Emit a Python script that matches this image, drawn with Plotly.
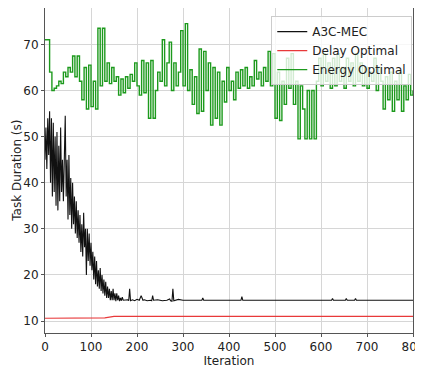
import plotly.graph_objects as go

# ---- data ----
energy_x = list(range(0, 801, 5))
energy_y = [
    71, 71, 64, 60, 60.5, 61, 62, 61.5, 64, 63,
    65, 64, 67.5, 63, 67.5, 62, 58, 65, 56, 65.5,
    56.5, 62, 56, 73.5, 61, 73.5, 62, 66, 61.5, 65,
    62, 63, 59, 62.5, 59.5, 63, 60.5, 63.5, 62, 66,
    61, 59, 66.5, 59.5, 66, 54, 66.5, 54, 60, 64,
    62, 71, 61, 66, 70.5, 60, 66, 61, 64, 73,
    61, 74.5, 60, 64.5, 57, 63, 55, 69, 55.5, 68.5,
    60, 66, 52.5, 65, 54, 64, 52.5, 62, 57.5, 65,
    60, 62, 58, 64, 60.5, 64.5, 61, 65, 60.5, 63,
    61, 66.5, 62.5, 64, 61, 65, 62, 68.5, 61, 68,
    54, 64, 53.5, 62, 57, 67, 60.5, 68, 57, 62,
    49.5, 61, 56, 49.5, 60, 49.5, 60, 49.5, 62, 67,
    61, 68, 62, 66, 60.5, 67, 61, 68, 62, 65,
    60.5, 67, 62, 66, 61, 68, 62, 66, 61, 65,
    60.5, 64, 62, 67, 60, 65, 62, 56, 63, 58,
    64, 55.5, 62, 58, 64, 55.5, 61, 58, 63.5, 59,
    60,
]

a3c_x = list(range(0, 171, 2)) + [
    175, 180, 182, 184, 186, 190, 195, 200, 205, 207, 209, 211, 213, 216, 222,
    230, 232, 234, 236, 245, 255, 265, 271, 273, 276, 278, 280, 290, 300, 320,
    341, 343, 345, 380, 426, 428, 430, 500, 620, 623, 625, 627, 653, 655, 657,
    673, 675, 677, 800]
a3c_y = [
    45, 52, 43, 54, 46, 55.5, 40, 54, 37, 53,
    38, 50, 35, 51, 34, 48, 36, 52, 38, 45,
    36, 47, 54.5, 37, 45, 32, 46, 33, 41, 30,
    40, 31, 37, 29, 36, 28, 34, 27, 33, 25,
    31, 24, 33.5, 26, 30, 20, 30, 23, 29, 22,
    27, 21, 25, 19, 24, 18, 23, 17.5, 21, 17,
    21.5, 16.5, 20, 16, 19, 15.5, 18.5, 15, 17.5, 15,
    17, 14.5, 16.5, 14.5, 17, 14.5, 16, 14.3, 16, 14.5,
    15.5, 14.3, 15, 14.4, 15.2, 14.5,
    14.5, 14.6, 14.4, 17, 14.4, 14.6, 14.4, 14.7, 14.5, 15.2, 15.5, 15.0, 14.5, 14.6, 14.4,
    14.5, 14.4, 15.5, 14.5, 14.6, 14.4, 14.5, 14.8, 14.4, 14.3, 17, 14.4, 14.7, 14.5, 14.5,
    14.5, 15.0, 14.5, 14.5, 14.5, 15.3, 14.5, 14.5, 14.5, 14.5, 14.9, 14.5, 14.5, 14.9, 14.5,
    14.5, 14.9, 14.5, 14.5,
]

delay_x = [0, 130, 150, 800]
delay_y = [10.6, 10.7, 11.0, 11.0]

x_ticks = [0, 100, 200, 300, 400, 500, 600, 700, 800]
y_ticks = [10, 20, 30, 40, 50, 60, 70]

FONT = "DejaVu Sans"

fig = go.Figure()
fig.add_trace(go.Scatter(x=a3c_x, y=a3c_y, mode="lines", name="A3C-MEC",
                         line=dict(color="#111111", width=1.1)))
fig.add_trace(go.Scatter(x=delay_x, y=delay_y, mode="lines", name="Delay Optimal",
                         line=dict(color="#e8393a", width=1.2)))
fig.add_trace(go.Scatter(x=energy_x, y=energy_y, mode="lines", name="Energy Optimal",
                         line=dict(color="#1d9a1d", width=1.4, shape="hv")))

axis_common = dict(showgrid=True, gridcolor="#d6d6d6", gridwidth=1,
                   showline=True, linecolor="#555555", linewidth=1, mirror=True,
                   ticks="outside", ticklen=3, tickcolor="#555555",
                   tickfont=dict(family=FONT, size=12, color="#222222"),
                   ticklabeloverflow="allow",
                   zeroline=False, automargin=False)

# page body has an 8px default margin, so the figure is sized/offset to compensate
fig.update_layout(
    width=415, height=362,
    margin=dict(l=37, r=10, t=0, b=37),
    paper_bgcolor="white", plot_bgcolor="white",
    font=dict(family=FONT, size=12, color="#222222"),
    xaxis=dict(range=[0, 800], tickvals=x_ticks,
               title=dict(text="Iteration", standoff=0, font=dict(family=FONT, size=12)),
               **axis_common),
    yaxis=dict(range=[7.4, 77.9], tickvals=y_ticks, **axis_common),
    legend=dict(x=0.998, y=0.975, xanchor="right", yanchor="top",
                bgcolor="rgba(255,255,255,0.8)", bordercolor="#cccccc", borderwidth=1,
                font=dict(family=FONT, size=12, color="#222222"),
                itemwidth=30, tracegroupgap=0),
    showlegend=True,
    annotations=[dict(text="Task Duration (s)", textangle=-90, xref="paper", yref="paper",
                      x=-0.078, y=0.5, xanchor="center", yanchor="middle", showarrow=False,
                      font=dict(family=FONT, size=12, color="#222222"))],
)

fig.write_html("out.html")
